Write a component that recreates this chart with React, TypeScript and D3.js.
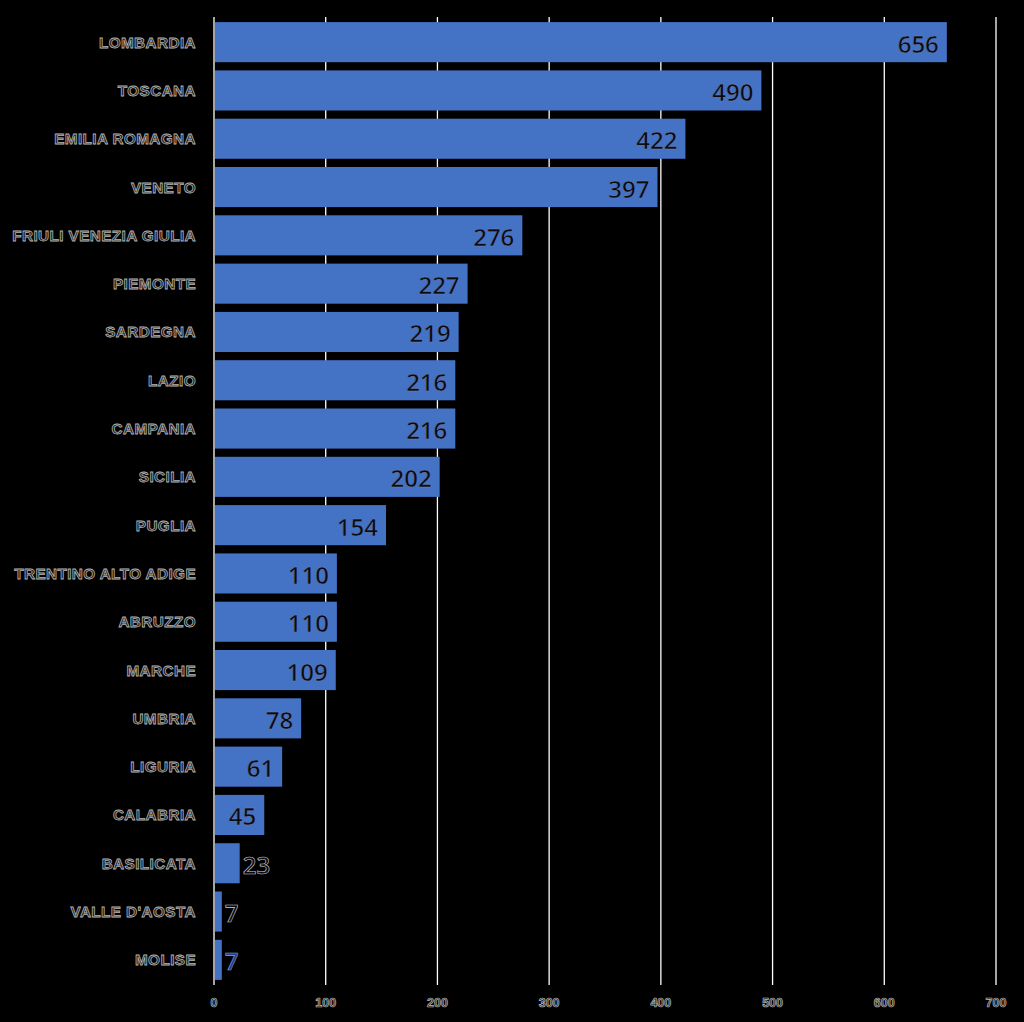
import React from "react";
import * as d3 from "d3";

const categories = ["LOMBARDIA","TOSCANA","EMILIA ROMAGNA","VENETO","FRIULI VENEZIA GIULIA","PIEMONTE","SARDEGNA","LAZIO","CAMPANIA","SICILIA","PUGLIA","TRENTINO ALTO ADIGE","ABRUZZO","MARCHE","UMBRIA","LIGURIA","CALABRIA","BASILICATA","VALLE D'AOSTA","MOLISE"];
const values = [656,490,422,397,276,227,219,216,216,202,154,110,110,109,78,61,45,23,7,7];
const ticks = [0,100,200,300,400,500,600,700];

export default function App() {
  const W = 1024, H = 1022;
  const x = d3.scaleLinear().domain([0, 700]).range([214, 996]);
  const y = d3.scaleBand<string>().domain(categories).range([18, 984]).paddingInner(0.17).paddingOuter(0.085);
  const labelFont = "'Liberation Sans', Arial, sans-serif";
  const valueFont = "'Open Sans', 'Liberation Sans', sans-serif";
  return (
    <svg width={W} height={H} style={{ position: "absolute", left: 0, top: 0, background: "#000" }}>
      <rect x={0} y={0} width={W} height={H} fill="#000" />
      {ticks.map((t) => (
        <line key={t} x1={x(t)} x2={x(t)} y1={17} y2={985} stroke="#fff" strokeWidth={1.3} />
      ))}
      {categories.map((c, i) => {
        const v = values[i];
        const yy = y(c)!;
        const bh = y.bandwidth();
        const bw = x(v) - x(0);
        const inside = bw > 50;
        const last = i === categories.length - 1;
        return (
          <g key={c}>
            <rect x={x(0) + 1} y={yy} width={Math.max(0, bw - 1)} height={bh} fill="#4472C4" />
            <text x={196} y={yy + bh / 2} textAnchor="end" dominantBaseline="central"
              fontFamily={labelFont} fontWeight="bold" fontSize={15.3} fill="#1a1a1a" stroke="#b4b4b4" strokeWidth={0.8} letterSpacing={0.4}>
              {c}
            </text>
            <text x={inside ? x(v) - 8 : x(v) + 3} y={yy + bh / 2 + 1} textAnchor={inside ? "end" : "start"} dominantBaseline="central"
              fontFamily={valueFont} fontWeight={600} fontSize={24} fill={last ? "#1f3d9a" : "#0a0a14"}
              stroke={inside ? "#6f84b0" : last ? "#8aa0d0" : "#d0d0d0"} strokeWidth={inside ? 0.4 : 0.6}>
              {v}
            </text>
          </g>
        );
      })}
      {ticks.map((t) => (
        <text key={"l" + t} x={x(t)} y={1003} textAnchor="middle" dominantBaseline="central"
          fontFamily={labelFont} fontWeight="bold" fontSize={12.5} fill="#222" stroke="#bbb" strokeWidth={0.7}>
          {t}
        </text>
      ))}
    </svg>
  );
}
